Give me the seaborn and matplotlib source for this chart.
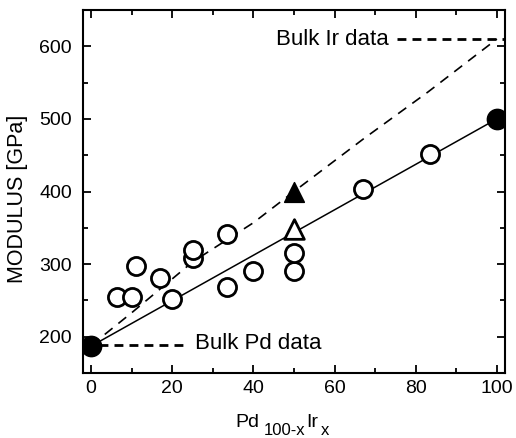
import matplotlib
matplotlib.use("Agg")
import matplotlib.pyplot as plt
import seaborn as sns

# Measured film moduli (open circles)
film_x = [6.5, 10, 11, 17, 20, 25, 25, 33.5, 33.5, 40, 50, 50, 67, 83.5]
film_y = [255, 255, 297, 281, 252, 309, 319, 342, 268, 291, 291, 315, 403, 452]

# Bulk reference values (filled circles)
bulk_x = [0, 100]
bulk_y = [187, 500]

# Pd50Ir50 results
tri_open_x, tri_open_y = [50], [348]
tri_fill_x, tri_fill_y = [50], [400]

# Rule-of-mixtures line between the bulk values
mix_x = [0, 100]
mix_y = [187, 500]

# Upper estimate curve
upper_x = [0, 10, 25, 40, 50, 67, 83, 100]
upper_y = [188, 233, 303, 357, 400, 472, 537, 610]

# Bulk reference markers
pd_bulk_x, pd_bulk_y = [2, 23], [188, 188]
ir_bulk_x, ir_bulk_y = [75.5, 102], [610, 610]

W, H = 516, 438

sns.set_style("ticks")
plt.rcParams["font.family"] = ["Liberation Sans", "DejaVu Sans"]
for key in ("text.color", "axes.labelcolor", "xtick.color", "ytick.color",
            "axes.edgecolor"):
    plt.rcParams[key] = "black"

fig = plt.figure(figsize=(W / 100, H / 100), dpi=100)
ax = fig.add_axes([83 / W, 1 - 373 / H, 422 / W, 363 / H])

sns.lineplot(x=mix_x, y=mix_y, ax=ax, color="black", lw=1.1, zorder=2)
sns.lineplot(x=upper_x, y=upper_y, ax=ax, color="black", lw=1.2,
             zorder=2).lines[-1].set_dashes([6, 4.5])
l1 = ax.plot(pd_bulk_x, pd_bulk_y, color="black", lw=2.0)[0]
l1.set_dashes([3.2, 2.2])
l2 = ax.plot(ir_bulk_x, ir_bulk_y, color="black", lw=2.0)[0]
l2.set_dashes([3.2, 2.2])

sns.scatterplot(x=film_x, y=film_y, ax=ax, marker="o", s=170,
                facecolor="white", edgecolor="black", linewidth=2.0, zorder=3)
sns.scatterplot(x=bulk_x, y=bulk_y, ax=ax, marker="o", s=210,
                color="black", edgecolor="black", zorder=4)
sns.scatterplot(x=tri_open_x, y=tri_open_y, ax=ax, marker="^", s=200,
                facecolor="white", edgecolor="black", linewidth=2.0, zorder=3)
sns.scatterplot(x=tri_fill_x, y=tri_fill_y, ax=ax, marker="^", s=200,
                color="black", edgecolor="black", zorder=3)

ax.text(25.6, 190.5, "Bulk Pd data", fontsize=16, va="center", ha="left")
ax.text(73.3, 610, "Bulk Ir data", fontsize=16, va="center", ha="right")

ax.set_xlim(-2, 102)
ax.set_ylim(150, 650)
ax.set_xticks([0, 20, 40, 60, 80, 100])
ax.set_xticks(range(0, 101, 10), minor=True)
ax.set_yticks([200, 300, 400, 500, 600])
ax.set_yticks(range(150, 651, 50), minor=True)
ax.tick_params(which="both", direction="in", top=True, right=True,
               labelsize=14, width=1.3, color="black")
ax.tick_params(which="major", length=6)
ax.tick_params(which="minor", length=3.5)
ax.tick_params(axis="y", which="major", pad=8)
ax.tick_params(axis="x", which="major", pad=5)
for sp in ax.spines.values():
    sp.set_linewidth(1.5)

ax.set_ylabel("MODULUS [GPa]", fontsize=15.5)
ax.yaxis.set_label_coords((28 - 83) / 422, (373 - 199) / 363)

# Composition label Pd(100-x)Ir(x) with enlarged, lowered subscripts
fig.canvas.draw()
renderer = fig.canvas.get_renderer()
pieces = [("Pd", 14, 0, 0), ("100-x", 12, 8, 5), ("Ir", 14, 0, 1), ("x", 12, 8, 2)]
xpos, base = 235, 427
for s, fs, drop, gap in pieces:
    xpos += gap
    t = fig.text(xpos / W, 1 - (base + drop) / H, s, fontsize=fs,
                 ha="left", va="baseline")
    xpos = t.get_window_extent(renderer).x1

fig.savefig("out.png", dpi=100)
